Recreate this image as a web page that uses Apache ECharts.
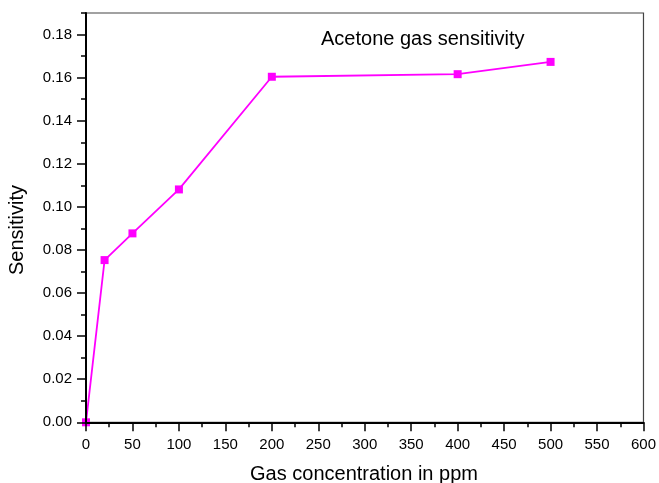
<!DOCTYPE html>
<html>
<head>
<meta charset="utf-8">
<script src="https://cdn.jsdelivr.net/npm/echarts@6/dist/echarts.min.js"></script>
<style>
html,body{margin:0;padding:0;background:#fff;}
#c{width:659px;height:483px;}
</style>
</head>
<body>
<div id="c"></div>
<script>
var concentrations = [0, 20, 50, 100, 200, 400, 500];
var sensitivity = [0.000, 0.0753, 0.0877, 0.1081, 0.1604, 0.1616, 0.1673];
var chartLabel = 'Acetone gas sensitivity';
var xName = 'Gas concentration in ppm';
var yName = 'Sensitivity';

var font = 'Liberation Sans, Arial, sans-serif';
var chart = echarts.init(document.getElementById('c'), null, {renderer: 'canvas'});
var pts = concentrations.map(function (x, i) { return [x, sensitivity[i]]; });

chart.setOption({
  animation: false,
  backgroundColor: '#fff',
  grid: [
    {left: 86, right: 14, top: 13, bottom: 60.7, show: true, borderColor: '#444', borderWidth: 1.2, backgroundColor: 'transparent'},
    {left: 86, right: 14, top: 34.6, bottom: 60.7, show: false}
  ],
  xAxis: [
    {
      type: 'value', gridIndex: 0, min: 0, max: 600, interval: 50, z: 5,
      axisLine: {show: true, onZero: false, lineStyle: {color: '#000', width: 2}},
      axisTick: {show: true, inside: false, length: 9, lineStyle: {color: '#000', width: 1.5}},
      minorTick: {show: true, splitNumber: 2, length: 5, lineStyle: {color: '#000', width: 1.5}},
      splitLine: {show: false},
      axisLabel: {margin: 15, color: '#000', fontSize: 15, fontFamily: font}
    },
    {
      type: 'value', gridIndex: 1, min: 0, max: 600, show: false
    }
  ],
  yAxis: [
    {
      type: 'value', gridIndex: 0, min: 0, max: 0.19, interval: 0.01, z: 5,
      axisLine: {show: true, onZero: false, lineStyle: {color: '#000', width: 2}},
      axisTick: {show: true, inside: false, length: 5, lineStyle: {color: '#000', width: 1.5}},
      splitLine: {show: false},
      axisLabel: {show: false}
    },
    {
      type: 'value', gridIndex: 1, min: 0, max: 0.18, interval: 0.02, z: 5,
      axisLine: {show: false},
      axisTick: {show: true, inside: false, length: 9, lineStyle: {color: '#000', width: 1.5}},
      splitLine: {show: false},
      axisLabel: {show: true, margin: 14, color: '#000', fontSize: 15, fontFamily: font,
        formatter: function (v) { return v.toFixed(2); }}
    }
  ],
  graphic: [
    {type: 'text', left: 321, top: 29, z: 10,
      style: {text: chartLabel, fill: '#000', font: '20px ' + font}},
    {type: 'text', x: 364, y: 474, z: 10,
      style: {text: xName, fill: '#000', font: '20px ' + font, textAlign: 'center', textVerticalAlign: 'middle'}},
    {type: 'text', x: 17, y: 230, rotation: Math.PI / 2, z: 10,
      style: {text: yName, fill: '#000', font: '20px ' + font, textAlign: 'center', textVerticalAlign: 'middle'}}
  ],
  series: [{
    type: 'line', xAxisIndex: 0, yAxisIndex: 0, data: pts, z: 2,
    symbol: 'rect', symbolSize: 8, showSymbol: true,
    itemStyle: {color: '#ff00ff'},
    lineStyle: {color: '#ff00ff', width: 1.8},
    clip: false
  }]
});
</script>
</body>
</html>
